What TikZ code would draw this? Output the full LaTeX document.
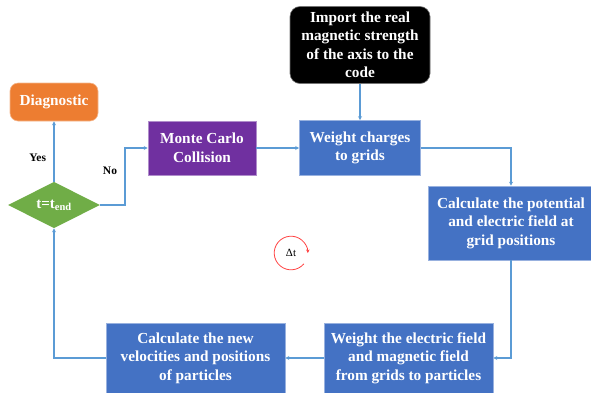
\documentclass[tikz,border=0pt]{standalone}
\usepackage{fontspec}
\setmainfont{Liberation Serif}
\usetikzlibrary{shapes.geometric,arrows.meta}
\definecolor{boxblue}{HTML}{4472C4}
\definecolor{flowblue}{HTML}{5B9BD5}
\definecolor{diagorange}{HTML}{ED7D31}
\definecolor{mcpurple}{HTML}{7030A0}
\definecolor{checkgreen}{HTML}{70AD47}
\definecolor{looped}{HTML}{FF4040}

\tikzset{
  stepbox/.style={rectangle, fill=#1, draw=#1!55!white, line width=0.6pt, text=white,
    font=\fontsize{15.3}{18.5}\selectfont\bfseries, align=center, inner sep=0pt},
  flow/.style={draw=flowblue, line width=1.3pt, -{Stealth[length=4pt,width=4pt]}},
  answer/.style={font=\fontsize{11.5}{13}\selectfont\bfseries, text=black}
}

\begin{document}
\begin{tikzpicture}[x=1pt,y=-1pt]
\useasboundingbox (0,0) rectangle (591,392);

% boxes of the loop
\node[stepbox=black, rounded corners=10pt, minimum width=140pt, minimum height=77pt] (import) at (360,45) {Import the real\\magnetic strength\\of the axis to the\\code};
\node[stepbox=boxblue, minimum width=121pt, minimum height=55pt] (charges) at (360,148) {Weight charges\\to grids};
\node[stepbox=boxblue, minimum width=166pt, minimum height=74pt] (potential) at (511,223) {Calculate the potential\\and electric field at\\grid positions};
\node[stepbox=boxblue, minimum width=169pt, minimum height=70pt] (field) at (408.5,358) {Weight the electric field\\and magnetic field\\from grids to particles};
\node[stepbox=boxblue, minimum width=179pt, minimum height=70pt] (velocities) at (195.5,358) {Calculate the new\\velocities and positions\\of particles};
\node[stepbox=mcpurple, minimum width=108pt, minimum height=54pt] (mc) at (202,148) {Monte Carlo\\Collision};
\node[stepbox=diagorange, rounded corners=8pt, minimum width=88pt, minimum height=38pt] (diag) at (54,102) {Diagnostic};
\node[diamond, fill=checkgreen, minimum width=92pt, minimum height=46pt, inner sep=0pt, text=white,
  font=\fontsize{15}{17}\selectfont\bfseries] (check) at (54,205) {t=t\textsubscript{end}};

% time step
\node[font=\fontsize{11}{13}\selectfont] (dt) at (291,253) {Δt};
\draw[looped, line width=0.8pt, -{Stealth[length=3.5pt,width=3.5pt]}] (dt.center) ++(12.9pt,-10.8pt) arc[start angle=-40, end angle=-360, radius=16.8pt];

% connectors
\coordinate (bend) at (125,205);
\draw[flow] (import) -- (charges);
\draw[flow] (mc) -- (charges);
\draw[flow] (charges.east) -| (potential.north);
\draw[flow] (potential.south) |- (field.east);
\draw[flow] (field) -- (velocities);
\draw[flow] (velocities.west) -| (check.south);
\draw[flow] (check.north) -- (diag.south) node[answer, pos=0.4, left=4pt] {Yes};
\draw[flow] (check.east) -- (bend) |- (mc.west) node[answer, pos=0.3, left=4pt] {No};

\end{tikzpicture}
\end{document}
